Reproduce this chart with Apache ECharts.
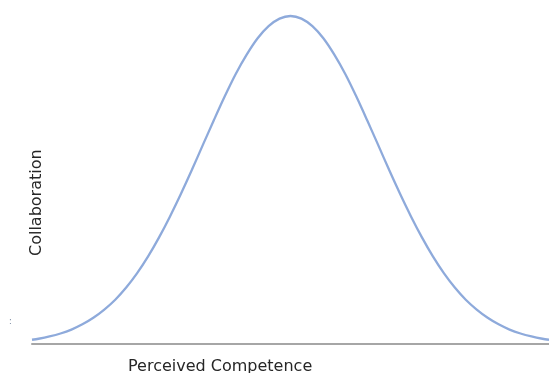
<!DOCTYPE html>
<html>
<head>
<meta charset="utf-8">
<script src="https://cdn.jsdelivr.net/npm/echarts@6/dist/echarts.min.js"></script>
<style>
html,body{margin:0;padding:0;background:#fff;}
#chart{width:549px;height:373px;}
</style>
</head>
<body>
<div id="chart"></div>
<script>
// Perceived Competence (in spread units) and relative Collaboration
var competence = [-2.95,-2.875,-2.75,-2.625,-2.5,-2.375,-2.25,-2.125,-2,-1.875,-1.75,-1.625,-1.5,-1.375,-1.25,-1.125,-1,-0.875,-0.75,-0.625,-0.5,-0.375,-0.25,-0.125,0,0.125,0.25,0.375,0.5,0.625,0.75,0.875,1,1.125,1.25,1.375,1.5,1.625,1.75,1.875,2,2.125,2.25,2.375,2.5,2.625,2.75,2.875,2.95];
var collaboration = [0.013,0.016,0.023,0.032,0.044,0.060,0.080,0.105,0.135,0.172,0.216,0.267,0.325,0.389,0.458,0.531,0.607,0.682,0.755,0.823,0.882,0.932,0.969,0.992,1.0,0.992,0.969,0.932,0.882,0.823,0.755,0.682,0.607,0.531,0.458,0.389,0.325,0.267,0.216,0.172,0.135,0.105,0.080,0.060,0.044,0.032,0.023,0.016,0.013];
var xTitle = 'Perceived Competence';
var yTitle = 'Collaboration';

var points = competence.map(function (c, i) { return [c, collaboration[i]]; });

var chart = echarts.init(document.getElementById('chart'));
chart.setOption({
  animation: false,
  backgroundColor: '#ffffff',
  grid: { left: 32, right: 0, top: 16, bottom: 29 },
  xAxis: {
    type: 'value', min: -2.95, max: 2.95,
    axisLine: { show: true, lineStyle: { color: '#a6a6a6', width: 2 } },
    axisTick: { show: false }, axisLabel: { show: false }, splitLine: { show: false }
  },
  yAxis: {
    type: 'value', min: 0, max: 1,
    axisLine: { show: false }, axisTick: { show: false }, axisLabel: { show: false }, splitLine: { show: false }
  },
  series: [{
    type: 'line',
    data: points,
    smooth: 0.3,
    symbol: 'none',
    clip: false,
    lineStyle: { color: '#8eaadb', width: 2.3 }
  }],
  graphic: [
    { type: 'text', left: 128, top: 359, style: { text: xTitle, fontFamily: 'DejaVu Sans', fontSize: 16, fill: '#262626' } },
    { type: 'text', x: 29, y: 256, rotation: Math.PI / 2, style: { text: yTitle, fontFamily: 'DejaVu Sans', fontSize: 16, fill: '#262626', textVerticalAlign: 'top' } },
    { type: 'text', left: 9, top: 318, style: { text: ':', fontFamily: 'DejaVu Sans', fontSize: 8, fill: '#6d7f99' } }
  ]
});
</script>
</body>
</html>
